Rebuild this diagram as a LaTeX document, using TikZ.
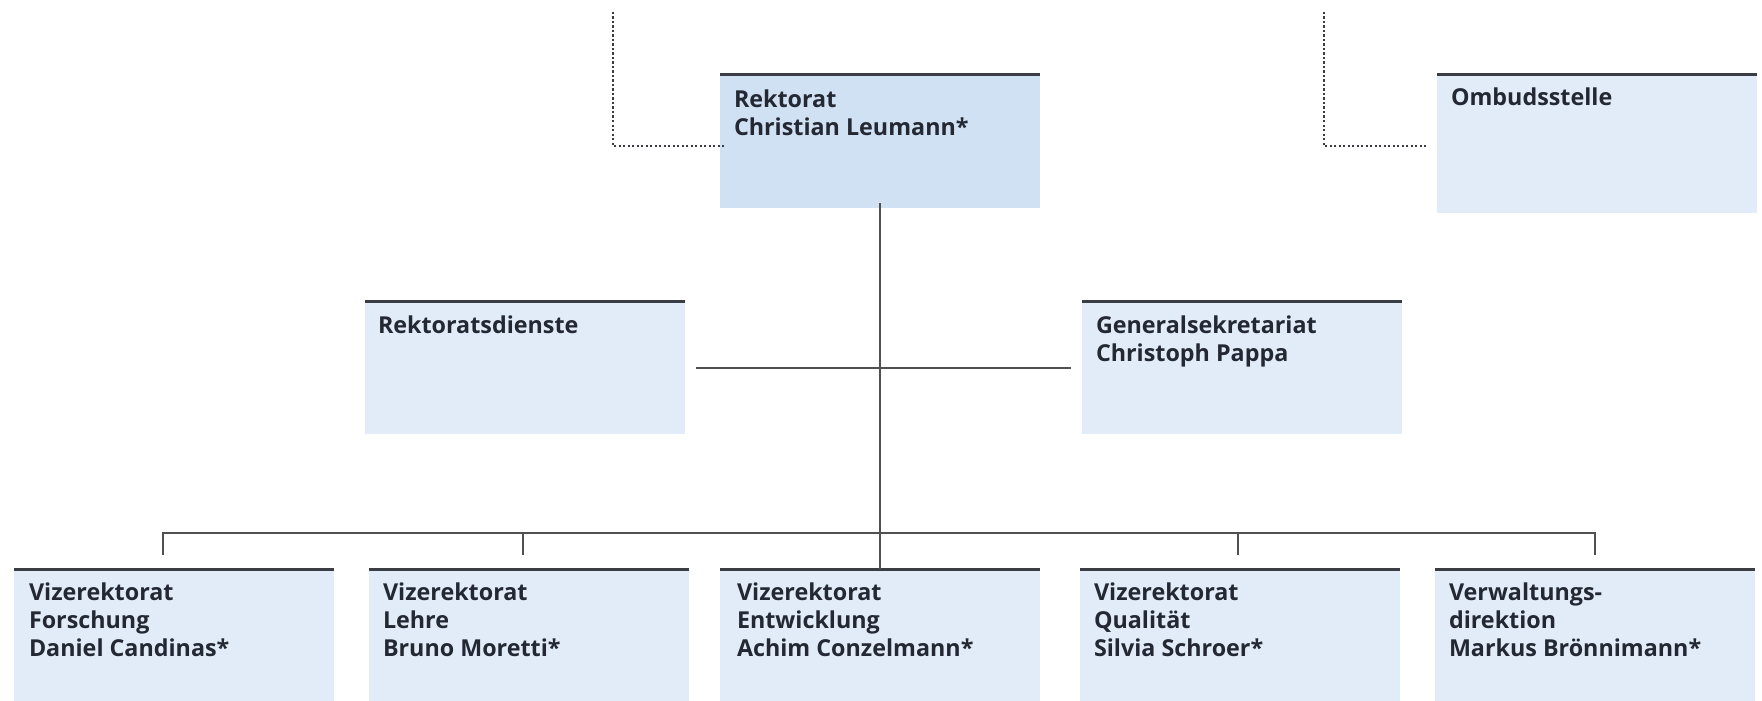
\documentclass[tikz,border=0pt]{standalone}
\usepackage{fontspec}
\setmainfont{Open Sans}
\usetikzlibrary{calc}
\definecolor{boxfill}{RGB}{226,236,248}
\definecolor{topfill}{RGB}{208,225,243}
\definecolor{rulecol}{RGB}{58,62,68}
\definecolor{linecol}{RGB}{80,80,80}
\definecolor{txt}{RGB}{35,40,50}
\begin{document}
\begin{tikzpicture}[x=1pt,y=-1pt,
  orgbox/.style={fill=boxfill, draw=none, minimum width=320pt, minimum height=133pt, anchor=north west, inner sep=0pt, outer sep=0pt},
  toprule/.style={line width=3pt, draw=rulecol},
  lbl/.style={inner sep=0pt, outer sep=0pt, anchor=base west, text=txt, font=\fontsize{23.3}{28}\selectfont\bfseries},
  conn/.style={line width=1.5pt, draw=linecol},
  dotline/.style={line width=2.5pt, draw=rulecol, dash pattern=on 2.3pt off 2.2pt}]
\useasboundingbox (0,0) rectangle (1762,701);

% boxes
\node[orgbox, fill=topfill] (rek) at (720,75) {};
\node[orgbox, minimum height=138pt] (omb) at (1437,75) {};
\node[orgbox] (rd) at (365,301) {};
\node[orgbox] (gs) at (1082,301) {};
\node[orgbox, minimum height=132pt] (v1) at (14,569) {};
\node[orgbox, minimum height=132pt] (v2) at (369,569) {};
\node[orgbox, minimum height=132pt] (v3) at (720,569) {};
\node[orgbox, minimum height=132pt] (v4) at (1080,569) {};
\node[orgbox, minimum height=132pt] (v5) at (1435,569) {};

\foreach \b in {rek,omb,rd,gs,v1,v2,v3,v4,v5}
  \draw[toprule] (\b.north west) -- (\b.north east);

% labels
\node[lbl] (rekT) at ($(rek.north west)+(14,32)$) {\parbox[t]{300pt}{Rektorat\\Christian Leumann*}};
\node[lbl] (ombT) at ($(omb.north west)+(14,31)$) {\parbox[t]{300pt}{Ombudsstelle}};
\node[lbl] (rdT) at ($(rd.north west)+(13,32)$) {\parbox[t]{300pt}{Rektoratsdienste}};
\node[lbl] (gsT) at ($(gs.north west)+(14,32)$) {\parbox[t]{300pt}{Generalsekretariat\\Christoph Pappa}};
\node[lbl] (v1T) at ($(v1.north west)+(15,31)$) {\parbox[t]{300pt}{Vizerektorat\\Forschung\\Daniel Candinas*}};
\node[lbl] (v2T) at ($(v2.north west)+(14,31)$) {\parbox[t]{300pt}{Vizerektorat\\Lehre\\Bruno Moretti*}};
\node[lbl] (v3T) at ($(v3.north west)+(17,31)$) {\parbox[t]{300pt}{Vizerektorat\\Entwicklung\\Achim Conzelmann*}};
\node[lbl] (v4T) at ($(v4.north west)+(14,31)$) {\parbox[t]{300pt}{Vizerektorat\\Qualität\\Silvia Schroer*}};
\node[lbl] (v5T) at ($(v5.north west)+(14,31)$) {\parbox[t]{300pt}{Verwaltungs-\\direktion\\Markus Brönnimann*}};

% connectors
\coordinate (bus) at (880,533);
\coordinate (mid) at (880,368);
\draw[conn] ([yshift=5pt]rek.south) -- (v3.north);
\draw[conn] ([xshift=11pt]rd.east |- mid) -- ([xshift=-11pt]gs.west |- mid);
\coordinate (s1) at (163,555);
\coordinate (s2) at (523,555);
\coordinate (s4) at (1238,555);
\coordinate (s5) at (1595,555);
\draw[conn] (s1) -- (s1 |- bus) -- (s5 |- bus) -- (s5);
\draw[conn] (s2) -- (s2 |- bus);
\draw[conn] (s4) -- (s4 |- bus);

% dotted lines
\coordinate (dl) at (613,12);
\coordinate (dr) at (1324,12);
\draw[dotline] (dl) -- (dl |- 0,146) -- ([xshift=6pt]rek.west |- 0,146);
\draw[dotline] (dr) -- (dr |- 0,146) -- ([xshift=-9pt]omb.west |- 0,146);
\end{tikzpicture}
\end{document}
